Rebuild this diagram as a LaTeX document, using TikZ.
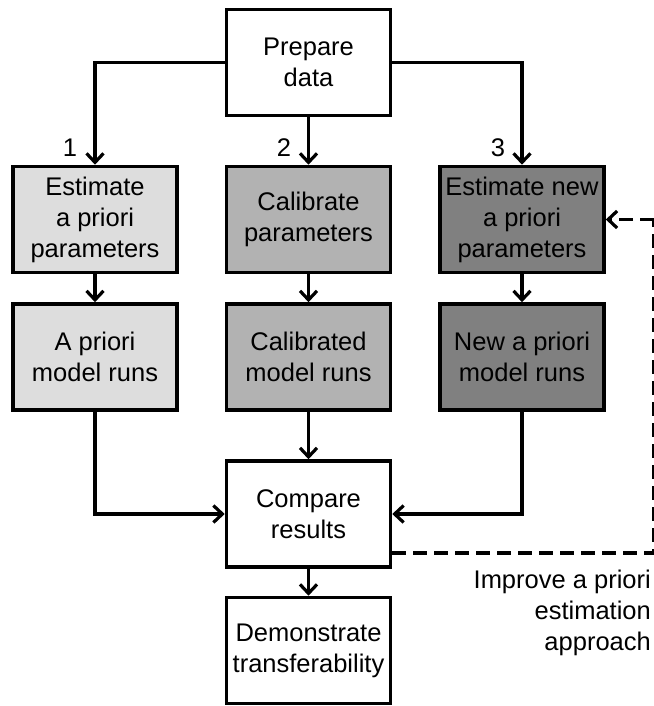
\documentclass[tikz,border=0pt]{standalone}
\usepackage{fontspec}
\setmainfont{Liberation Sans}
\usetikzlibrary{arrows.meta}
\definecolor{fillA}{HTML}{DDDDDD}
\definecolor{fillB}{HTML}{B2B2B2}
\definecolor{fillC}{HTML}{808080}
\tikzset{
  box/.style={draw=black, line width=3.6pt, minimum width=164pt, minimum height=106pt,
    inner sep=0pt, align=center, font=\fontsize{25.5}{31}\selectfont},
  tip/.style={-{Straight Barb[length=9pt,width=17pt,line width=3.2pt]}},
  conn/.style={line width=3.2pt, tip},
  dconn/.style={line width=3.4pt, dash pattern=on 14pt off 7pt},
  lbl/.style={font=\fontsize{25.5}{31}\selectfont, inner sep=0pt},
}
\begin{document}
\begin{tikzpicture}[x=1pt,y=-1pt]
\useasboundingbox (0,0) rectangle (653,706);
\node[box, fill=white] (prep) at (308.5,62.5) {Prepare\\data};
\node[box, fill=fillA] (est1) at (95,219.5) {Estimate\\a priori\\parameters};
\node[box, fill=fillB] (cal) at (308.5,219.5) {Calibrate\\parameters};
\node[box, fill=fillC] (est3) at (522,219.5) {Estimate new\\a priori\\parameters};
\node[box, fill=fillA] (run1) at (95,357) {A priori\\model runs};
\node[box, fill=fillB] (run2) at (308.5,357) {Calibrated\\model runs};
\node[box, fill=fillC] (run3) at (522,357) {New a priori\\model runs};
\node[box, fill=white] (cmp) at (308.5,514) {Compare\\results};
\node[box, fill=white] (demo) at (308.5,650.5) {Demonstrate\\transferability};
\node[lbl] (l1) at (70,148) {1};
\node[lbl] (l2) at (284,148) {2};
\node[lbl] (l3) at (498,148) {3};
\node[lbl, anchor=east, align=right] (imp) at (651,613) {Improve a priori\\estimation\\approach};
\coordinate (dr) at (654,553);
\coordinate (ur) at (654,219.5);
% connectors
\draw[conn] (prep.west) -| (est1.north);
\draw[conn] (prep.east) -| (est3.north);
\draw[conn] (prep.south) -- (cal.north);
\draw[conn] (est1.south) -- (run1.north);
\draw[conn] (cal.south) -- (run2.north);
\draw[conn] (est3.south) -- (run3.north);
\draw[conn] (run1.south) |- (cmp.west);
\draw[conn] (run3.south) |- (cmp.east);
\draw[conn] (run2.south) -- (cmp.north);
\draw[conn] (cmp.south) -- (demo.north);
\draw[dconn] (cmp.east |- dr) -- (dr) -- (ur);
\draw[dconn, tip] (ur) -- (est3.east);
\end{tikzpicture}
\end{document}
